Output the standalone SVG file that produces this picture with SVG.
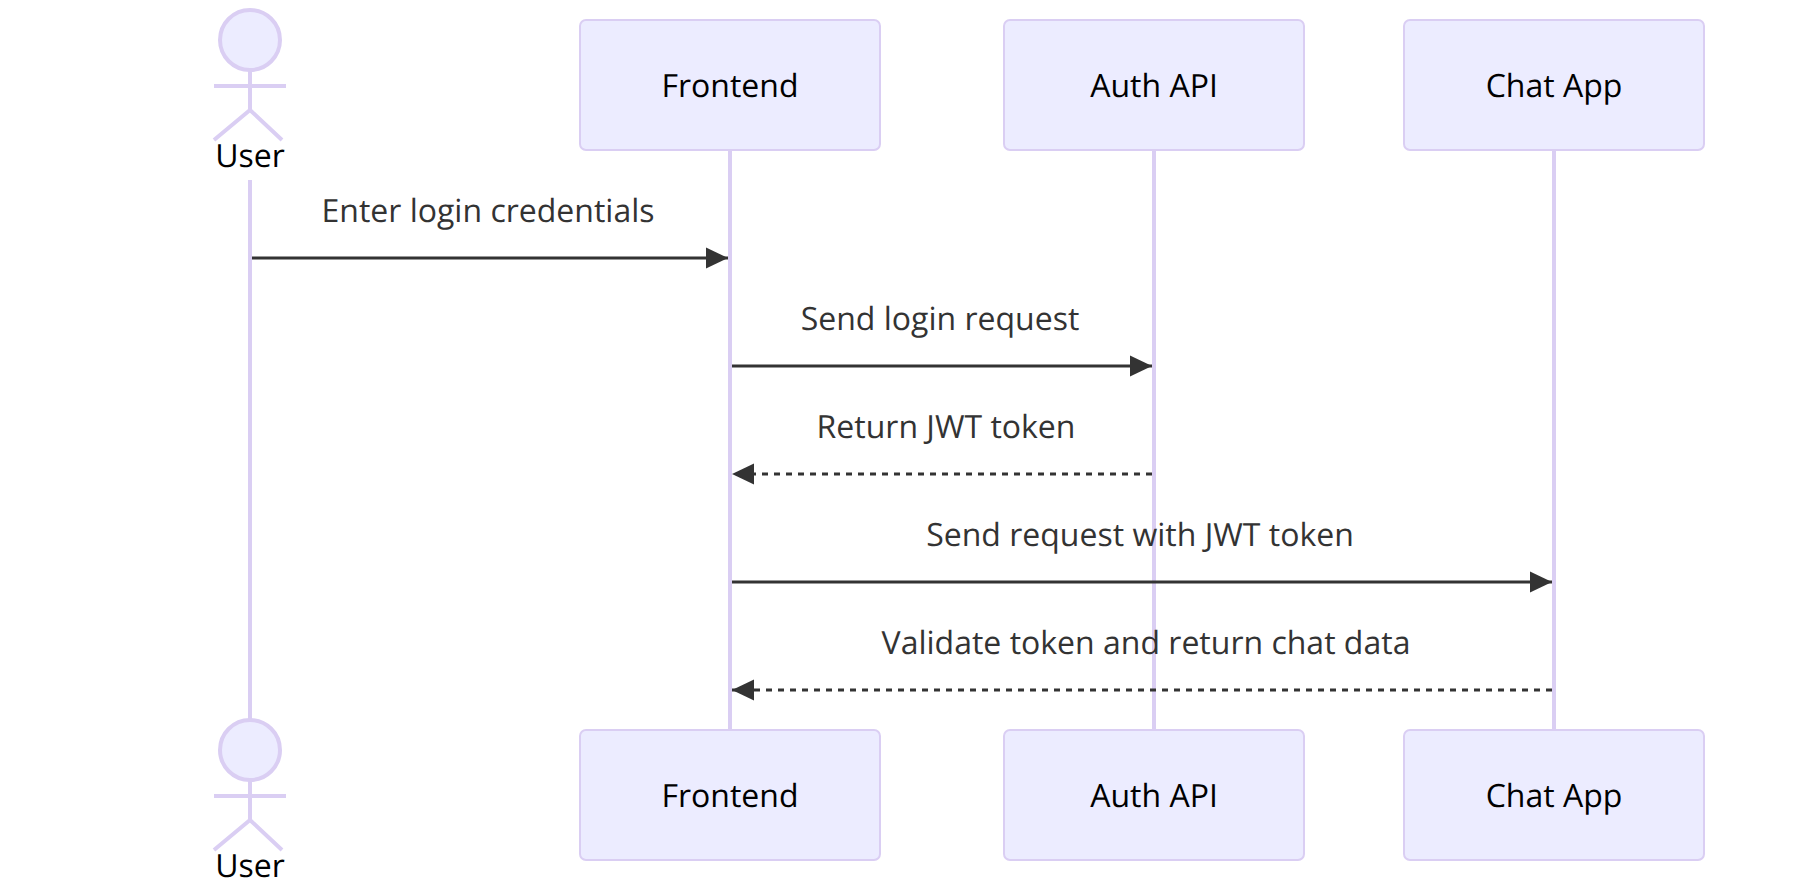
<svg xmlns="http://www.w3.org/2000/svg" width="1804" height="882" viewBox="0 0 1804 882">
<style>
text{font-family:"Open Sans",sans-serif;font-size:32px;text-anchor:middle;text-rendering:geometricPrecision}
.box{fill:#ECECFF;stroke:#DACEF3;stroke-width:2}
.life{stroke:#DACEF3;stroke-width:4;fill:none}
.name{fill:#000}
.msg{fill:#333}
.act{fill:none;stroke:#DACEF3;stroke-width:4}
.head{fill:#ECECFF;stroke:#DACEF3;stroke-width:4}
.arrow{stroke:#333;stroke-width:3;fill:none}
.solid{marker-end:url(#ah)}
.dash{stroke-dasharray:6 6;marker-end:url(#ah)}
</style>
<defs>
<marker id="ah" markerUnits="userSpaceOnUse" markerWidth="22" markerHeight="22" refX="22" refY="11" orient="auto"><path d="M0 0.5L22 11L0 21.5Z" fill="#333"/></marker>
<g id="stick"><circle class="head" cx="250" cy="40" r="30"/><path class="act" d="M250 70V110M214 86H286M250 110L214 140M250 110L282 140"/></g>
</defs>
<g id="lifelines">
<path class="life" d="M250 180V720"/>
<path class="life" d="M730 150V730"/>
<path class="life" d="M1154 150V730"/>
<path class="life" d="M1554 150V730"/>
</g>
<g id="connectors">
<path class="arrow solid" d="M252 258H728"/>
<path class="arrow solid" d="M732 366H1152"/>
<path class="arrow dash" d="M1152 474H732"/>
<path class="arrow solid" d="M732 582H1552"/>
<path class="arrow dash" d="M1552 690H732"/>
</g>
<g id="labels">
<text class="msg" x="488" y="221.5">Enter login credentials</text>
<text class="msg" x="940" y="329.5">Send login request</text>
<text class="msg" x="946" y="437.5">Return JWT token</text>
<text class="msg" x="1140" y="545.5">Send request with JWT token</text>
<text class="msg" x="1146" y="653.5">Validate token and return chat data</text>
</g>
<g id="user-top"><use href="#stick"/><text class="name" x="250" y="166.5">User</text></g>
<g id="frontend-top"><rect class="box" x="580" y="20" width="300" height="130" rx="6"/><text class="name" x="730" y="96.5">Frontend</text></g>
<g id="auth-top"><rect class="box" x="1004" y="20" width="300" height="130" rx="6"/><text class="name" x="1154" y="96.5">Auth API</text></g>
<g id="chat-top"><rect class="box" x="1404" y="20" width="300" height="130" rx="6"/><text class="name" x="1554" y="96.5">Chat App</text></g>
<g id="user-bottom"><use href="#stick" y="710"/><text class="name" x="250" y="876.5">User</text></g>
<g id="frontend-bottom"><rect class="box" x="580" y="730" width="300" height="130" rx="6"/><text class="name" x="730" y="806.5">Frontend</text></g>
<g id="auth-bottom"><rect class="box" x="1004" y="730" width="300" height="130" rx="6"/><text class="name" x="1154" y="806.5">Auth API</text></g>
<g id="chat-bottom"><rect class="box" x="1404" y="730" width="300" height="130" rx="6"/><text class="name" x="1554" y="806.5">Chat App</text></g>
</svg>
